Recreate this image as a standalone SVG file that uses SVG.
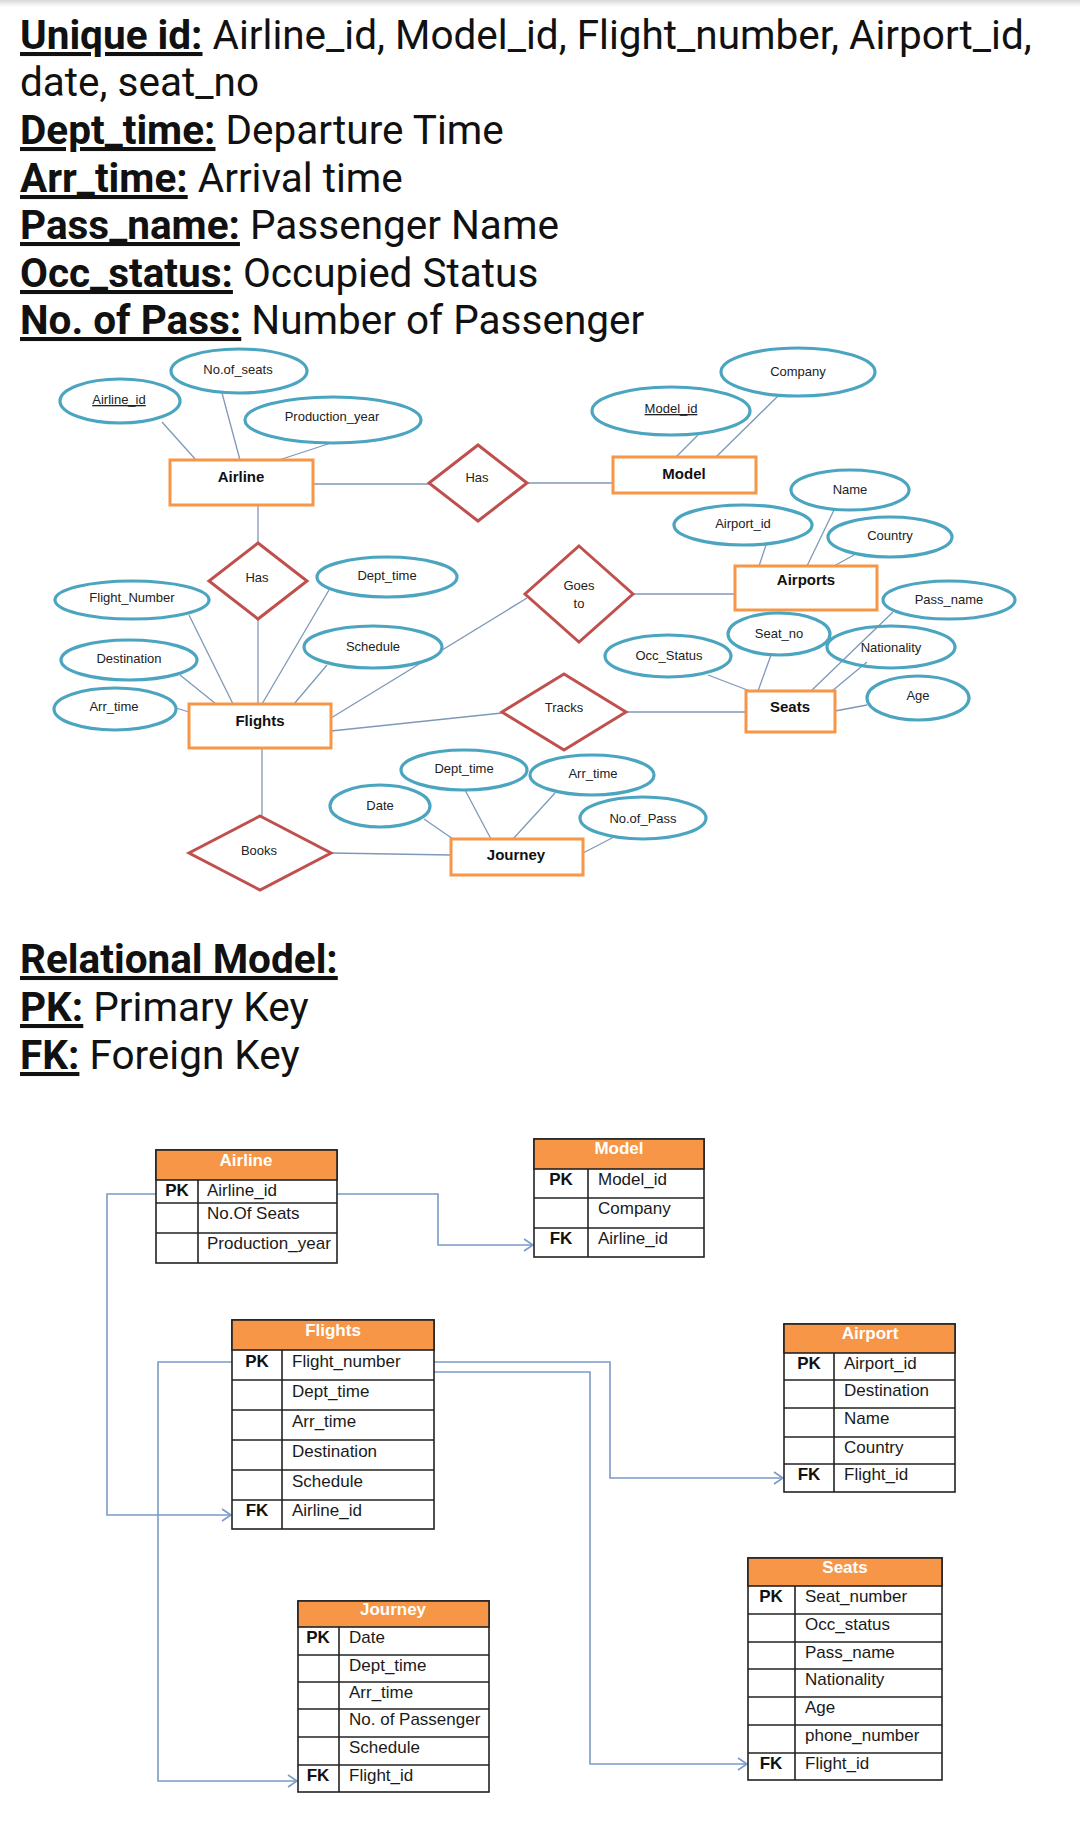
<svg xmlns="http://www.w3.org/2000/svg" width="1080" height="1839" viewBox="0 0 1080 1839">
<style>
.hd{font-family:Roboto,"Liberation Sans",sans-serif;font-size:40.5px;fill:#111}
.hb{font-weight:bold;text-decoration:underline}
.att{fill:#fff;stroke:#4BA5C0;stroke-width:3.2}
.attt{font-family:"Liberation Sans",Arial,sans-serif;font-size:13px;fill:#222;text-anchor:middle}
.ent{fill:#fff;stroke:#F79646;stroke-width:3}
.entt{font-family:"Liberation Sans",Arial,sans-serif;font-size:15px;font-weight:bold;fill:#111;text-anchor:middle}
.rel{fill:#fff;stroke:#C0504D;stroke-width:3}
.ln{stroke:#7F98B8;stroke-width:1.3;fill:none}
.fk{stroke:#7B9BC8;stroke-width:1.6;fill:none}
.tb{fill:#fff;stroke:#222;stroke-width:1.6}
.th{fill:#F79646;stroke:#222;stroke-width:1.6}
.tl{stroke:#222;stroke-width:1.6}
.tht{font-family:"Liberation Sans",Arial,sans-serif;font-size:17px;font-weight:bold;fill:#fff;text-anchor:middle}
.tt{font-family:"Liberation Sans",Arial,sans-serif;font-size:17px;fill:#1a1a1a}
.tk{font-family:"Liberation Sans",Arial,sans-serif;font-size:17px;font-weight:bold;fill:#111;text-anchor:middle}
</style>
<defs>
<linearGradient id="topg" x1="0" y1="0" x2="0" y2="1"><stop offset="0" stop-color="#d8d8d8"/><stop offset="1" stop-color="#ffffff"/></linearGradient>
<marker id="arr" markerWidth="12" markerHeight="14" refX="10" refY="7" orient="auto" markerUnits="userSpaceOnUse"><path d="M1,1 L10,7 L1,13" fill="none" stroke="#7B9BC8" stroke-width="1.6"/></marker>
</defs>
<rect x="0" y="0" width="1080" height="1839" fill="#fff"/>
<rect x="0" y="0" width="1080" height="7" fill="url(#topg)"/>

<g id="legend">
<text class="hd" x="20" y="49"><tspan class="hb">Unique id:</tspan> Airline_id, Model_id, Flight_number, Airport_id,</text>
<text class="hd" x="20" y="96">date, seat_no</text>
<text class="hd" x="20" y="144"><tspan class="hb">Dept_time:</tspan> Departure Time</text>
<text class="hd" x="20" y="192"><tspan class="hb">Arr_time:</tspan> Arrival time</text>
<text class="hd" x="20" y="239"><tspan class="hb">Pass_name:</tspan> Passenger Name</text>
<text class="hd" x="20" y="287"><tspan class="hb">Occ_status:</tspan> Occupied Status</text>
<text class="hd" x="20" y="334"><tspan class="hb">No. of Pass:</tspan> Number of Passenger</text>
<text class="hd" x="20" y="973"><tspan class="hb">Relational Model:</tspan></text>
<text class="hd" x="20" y="1021"><tspan class="hb">PK:</tspan> Primary Key</text>
<text class="hd" x="20" y="1069"><tspan class="hb">FK:</tspan> Foreign Key</text>
</g>

<g id="er-connectors">
<line class="ln" x1="162" y1="422" x2="196" y2="460"/>
<line class="ln" x1="222" y1="393" x2="240" y2="460"/>
<line class="ln" x1="331" y1="443" x2="279" y2="460"/>
<line class="ln" x1="313" y1="484" x2="429" y2="484"/>
<line class="ln" x1="527" y1="483" x2="613" y2="483"/>
<line class="ln" x1="698" y1="435" x2="676" y2="457"/>
<line class="ln" x1="778" y1="396" x2="716" y2="457"/>
<line class="ln" x1="258" y1="505" x2="258" y2="543"/>
<line class="ln" x1="258" y1="619" x2="258" y2="704"/>
<line class="ln" x1="189" y1="615" x2="233" y2="704"/>
<line class="ln" x1="180" y1="675" x2="216" y2="704"/>
<line class="ln" x1="176" y1="708" x2="189" y2="712"/>
<line class="ln" x1="329" y1="590" x2="262" y2="704"/>
<line class="ln" x1="327" y1="665" x2="294" y2="704"/>
<line class="ln" x1="331" y1="718" x2="527" y2="598"/>
<line class="ln" x1="633" y1="594" x2="735" y2="594"/>
<line class="ln" x1="766" y1="545" x2="759" y2="566"/>
<line class="ln" x1="834" y1="510" x2="807" y2="566"/>
<line class="ln" x1="854" y1="555" x2="834" y2="566"/>
<line class="ln" x1="331" y1="731" x2="502" y2="713"/>
<line class="ln" x1="626" y1="712" x2="746" y2="712"/>
<line class="ln" x1="708" y1="675" x2="750" y2="691"/>
<line class="ln" x1="771" y1="655" x2="758" y2="691"/>
<line class="ln" x1="893" y1="612" x2="811" y2="691"/>
<line class="ln" x1="867" y1="662" x2="832" y2="691"/>
<line class="ln" x1="867" y1="705" x2="835" y2="711"/>
<line class="ln" x1="262" y1="748" x2="262" y2="816"/>
<line class="ln" x1="331" y1="853" x2="451" y2="855"/>
<line class="ln" x1="424" y1="819" x2="453" y2="839"/>
<line class="ln" x1="465" y1="790" x2="491" y2="839"/>
<line class="ln" x1="555" y1="793" x2="513" y2="839"/>
<line class="ln" x1="614" y1="837" x2="583" y2="853"/>
</g>

<g id="er-airline"><rect class="ent" x="170" y="460" width="143" height="45"/><text class="entt" x="241" y="482">Airline</text></g>
<g id="er-model"><rect class="ent" x="613" y="457" width="143" height="36"/><text class="entt" x="684" y="479">Model</text></g>
<g id="er-airports"><rect class="ent" x="735" y="566" width="142" height="44"/><text class="entt" x="806" y="585">Airports</text></g>
<g id="er-flights"><rect class="ent" x="189" y="704" width="142" height="44"/><text class="entt" x="260" y="726">Flights</text></g>
<g id="er-seats"><rect class="ent" x="746" y="691" width="89" height="41"/><text class="entt" x="790" y="712">Seats</text></g>
<g id="er-journey"><rect class="ent" x="451" y="839" width="132" height="36"/><text class="entt" x="516" y="860">Journey</text></g>

<g id="rel-has1"><polygon class="rel" points="478,445 527,483 478,521 429,483"/><text class="attt" x="477" y="482">Has</text></g>
<g id="rel-has2"><polygon class="rel" points="258,543 307,581 258,619 209,581"/><text class="attt" x="257" y="582">Has</text></g>
<g id="rel-goesto"><polygon class="rel" points="579,546 633,594 579,642 525,594"/><text class="attt" x="579" y="590">Goes</text><text class="attt" x="579" y="608">to</text></g>
<g id="rel-tracks"><polygon class="rel" points="564,674 626,712 564,750 502,712"/><text class="attt" x="564" y="712">Tracks</text></g>
<g id="rel-books"><polygon class="rel" points="260,816 331,853 260,890 189,853"/><text class="attt" x="259" y="855">Books</text></g>

<g id="at-noofseats"><ellipse class="att" cx="239" cy="371" rx="68" ry="22"/><text class="attt" x="238" y="374">No.of_seats</text></g>
<g id="at-airlineid"><ellipse class="att" cx="120" cy="401" rx="60" ry="22"/><text class="attt" x="119" y="404" text-decoration="underline">Airline_id</text></g>
<g id="at-prodyear"><ellipse class="att" cx="333" cy="420" rx="88" ry="23"/><text class="attt" x="332" y="421">Production_year</text></g>
<g id="at-company"><ellipse class="att" cx="798" cy="372" rx="77" ry="24"/><text class="attt" x="798" y="376">Company</text></g>
<g id="at-modelid"><ellipse class="att" cx="671" cy="411" rx="79" ry="24"/><text class="attt" x="671" y="413" text-decoration="underline">Model_id</text></g>
<g id="at-name"><ellipse class="att" cx="850" cy="490" rx="59" ry="20"/><text class="attt" x="850" y="494">Name</text></g>
<g id="at-airportid"><ellipse class="att" cx="743" cy="525" rx="69" ry="20"/><text class="attt" x="743" y="528">Airport_id</text></g>
<g id="at-country"><ellipse class="att" cx="890" cy="537" rx="62" ry="20"/><text class="attt" x="890" y="540">Country</text></g>
<g id="at-depttime"><ellipse class="att" cx="387" cy="577" rx="70" ry="20"/><text class="attt" x="387" y="580">Dept_time</text></g>
<g id="at-flightnumber"><ellipse class="att" cx="132" cy="600" rx="77" ry="19"/><text class="attt" x="132" y="602">Flight_Number</text></g>
<g id="at-destination"><ellipse class="att" cx="129" cy="660" rx="68" ry="20"/><text class="attt" x="129" y="663">Destination</text></g>
<g id="at-arrtime"><ellipse class="att" cx="115" cy="709" rx="61" ry="21"/><text class="attt" x="114" y="711">Arr_time</text></g>
<g id="at-schedule"><ellipse class="att" cx="373" cy="647" rx="69" ry="21"/><text class="attt" x="373" y="651">Schedule</text></g>
<g id="at-passname"><ellipse class="att" cx="949" cy="600" rx="66" ry="19"/><text class="attt" x="949" y="604">Pass_name</text></g>
<g id="at-seatno"><ellipse class="att" cx="779" cy="634" rx="51" ry="21"/><text class="attt" x="779" y="638">Seat_no</text></g>
<g id="at-occstatus"><ellipse class="att" cx="668" cy="656" rx="63" ry="21"/><text class="attt" x="669" y="660">Occ_Status</text></g>
<g id="at-nationality"><ellipse class="att" cx="891" cy="647" rx="64" ry="21" style="fill:none"/><text class="attt" x="891" y="652">Nationality</text></g>
<g id="at-age"><ellipse class="att" cx="918" cy="698" rx="51" ry="22"/><text class="attt" x="918" y="700">Age</text></g>
<g id="at-depttime-j"><ellipse class="att" cx="464" cy="770" rx="63" ry="20"/><text class="attt" x="464" y="773">Dept_time</text></g>
<g id="at-date"><ellipse class="att" cx="380" cy="806" rx="50" ry="21"/><text class="attt" x="380" y="810">Date</text></g>
<g id="at-arrtime-j"><ellipse class="att" cx="592" cy="775" rx="62" ry="20"/><text class="attt" x="593" y="778">Arr_time</text></g>
<g id="at-noofpass"><ellipse class="att" cx="643" cy="818" rx="63" ry="21"/><text class="attt" x="643" y="823">No.of_Pass</text></g>

<g id="fk-connectors">
<polyline class="fk" points="337,1194 438,1194 438,1245 533,1245" marker-end="url(#arr)"/>
<polyline class="fk" points="156,1194 107,1194 107,1515 231,1515" marker-end="url(#arr)"/>
<polyline class="fk" points="232,1362 158,1362 158,1781 297,1781" marker-end="url(#arr)"/>
<polyline class="fk" points="434,1362 610,1362 610,1478 783,1478" marker-end="url(#arr)"/>
<polyline class="fk" points="434,1372 590,1372 590,1764 747,1764" marker-end="url(#arr)"/>
</g>

<g id="tbl-airline">
<rect class="tb" x="156" y="1150" width="181" height="113"/>
<rect class="th" x="156" y="1150" width="181" height="30"/>
<line class="tl" x1="198" y1="1180" x2="198" y2="1263"/>
<line class="tl" x1="156" y1="1203" x2="337" y2="1203"/>
<line class="tl" x1="156" y1="1233" x2="337" y2="1233"/>
<text class="tht" x="246" y="1166">Airline</text>
<text class="tk" x="177" y="1196">PK</text>
<text class="tt" x="207" y="1196">Airline_id</text>
<text class="tt" x="207" y="1219">No.Of Seats</text>
<text class="tt" x="207" y="1249">Production_year</text>
</g>

<g id="tbl-model">
<rect class="tb" x="534" y="1139" width="170" height="118"/>
<rect class="th" x="534" y="1139" width="170" height="30"/>
<line class="tl" x1="588" y1="1169" x2="588" y2="1257"/>
<line class="tl" x1="534" y1="1198" x2="704" y2="1198"/>
<line class="tl" x1="534" y1="1228" x2="704" y2="1228"/>
<text class="tht" x="619" y="1154">Model</text>
<text class="tk" x="561" y="1185">PK</text>
<text class="tt" x="598" y="1185">Model_id</text>
<text class="tt" x="598" y="1214">Company</text>
<text class="tk" x="561" y="1244">FK</text>
<text class="tt" x="598" y="1244">Airline_id</text>
</g>

<g id="tbl-flights">
<rect class="tb" x="232" y="1320" width="202" height="209"/>
<rect class="th" x="232" y="1320" width="202" height="30"/>
<line class="tl" x1="282" y1="1350" x2="282" y2="1529"/>
<line class="tl" x1="232" y1="1380" x2="434" y2="1380"/>
<line class="tl" x1="232" y1="1410" x2="434" y2="1410"/>
<line class="tl" x1="232" y1="1440" x2="434" y2="1440"/>
<line class="tl" x1="232" y1="1470" x2="434" y2="1470"/>
<line class="tl" x1="232" y1="1500" x2="434" y2="1500"/>
<text class="tht" x="333" y="1336">Flights</text>
<text class="tk" x="257" y="1367">PK</text>
<text class="tt" x="292" y="1367">Flight_number</text>
<text class="tt" x="292" y="1397">Dept_time</text>
<text class="tt" x="292" y="1427">Arr_time</text>
<text class="tt" x="292" y="1457">Destination</text>
<text class="tt" x="292" y="1487">Schedule</text>
<text class="tk" x="257" y="1516">FK</text>
<text class="tt" x="292" y="1516">Airline_id</text>
</g>

<g id="tbl-airport">
<rect class="tb" x="784" y="1324" width="171" height="168"/>
<rect class="th" x="784" y="1324" width="171" height="29"/>
<line class="tl" x1="834" y1="1353" x2="834" y2="1492"/>
<line class="tl" x1="784" y1="1380" x2="955" y2="1380"/>
<line class="tl" x1="784" y1="1408" x2="955" y2="1408"/>
<line class="tl" x1="784" y1="1437" x2="955" y2="1437"/>
<line class="tl" x1="784" y1="1464" x2="955" y2="1464"/>
<text class="tht" x="870" y="1339">Airport</text>
<text class="tk" x="809" y="1369">PK</text>
<text class="tt" x="844" y="1369">Airport_id</text>
<text class="tt" x="844" y="1396">Destination</text>
<text class="tt" x="844" y="1424">Name</text>
<text class="tt" x="844" y="1453">Country</text>
<text class="tk" x="809" y="1480">FK</text>
<text class="tt" x="844" y="1480">Flight_id</text>
</g>

<g id="tbl-journey">
<rect class="tb" x="298" y="1601" width="191" height="191"/>
<rect class="th" x="298" y="1601" width="191" height="26"/>
<line class="tl" x1="339" y1="1627" x2="339" y2="1792"/>
<line class="tl" x1="298" y1="1655" x2="489" y2="1655"/>
<line class="tl" x1="298" y1="1682" x2="489" y2="1682"/>
<line class="tl" x1="298" y1="1709" x2="489" y2="1709"/>
<line class="tl" x1="298" y1="1737" x2="489" y2="1737"/>
<line class="tl" x1="298" y1="1765" x2="489" y2="1765"/>
<text class="tht" x="393" y="1615">Journey</text>
<text class="tk" x="318" y="1643">PK</text>
<text class="tt" x="349" y="1643">Date</text>
<text class="tt" x="349" y="1671">Dept_time</text>
<text class="tt" x="349" y="1698">Arr_time</text>
<text class="tt" x="349" y="1725">No. of Passenger</text>
<text class="tt" x="349" y="1753">Schedule</text>
<text class="tk" x="318" y="1781">FK</text>
<text class="tt" x="349" y="1781">Flight_id</text>
</g>

<g id="tbl-seats">
<rect class="tb" x="748" y="1558" width="194" height="222"/>
<rect class="th" x="748" y="1558" width="194" height="28"/>
<line class="tl" x1="795" y1="1586" x2="795" y2="1780"/>
<line class="tl" x1="748" y1="1614" x2="942" y2="1614"/>
<line class="tl" x1="748" y1="1642" x2="942" y2="1642"/>
<line class="tl" x1="748" y1="1669" x2="942" y2="1669"/>
<line class="tl" x1="748" y1="1697" x2="942" y2="1697"/>
<line class="tl" x1="748" y1="1725" x2="942" y2="1725"/>
<line class="tl" x1="748" y1="1753" x2="942" y2="1753"/>
<text class="tht" x="845" y="1573">Seats</text>
<text class="tk" x="771" y="1602">PK</text>
<text class="tt" x="805" y="1602">Seat_number</text>
<text class="tt" x="805" y="1630">Occ_status</text>
<text class="tt" x="805" y="1658">Pass_name</text>
<text class="tt" x="805" y="1685">Nationality</text>
<text class="tt" x="805" y="1713">Age</text>
<text class="tt" x="805" y="1741">phone_number</text>
<text class="tk" x="771" y="1769">FK</text>
<text class="tt" x="805" y="1769">Flight_id</text>
</g>
</svg>
